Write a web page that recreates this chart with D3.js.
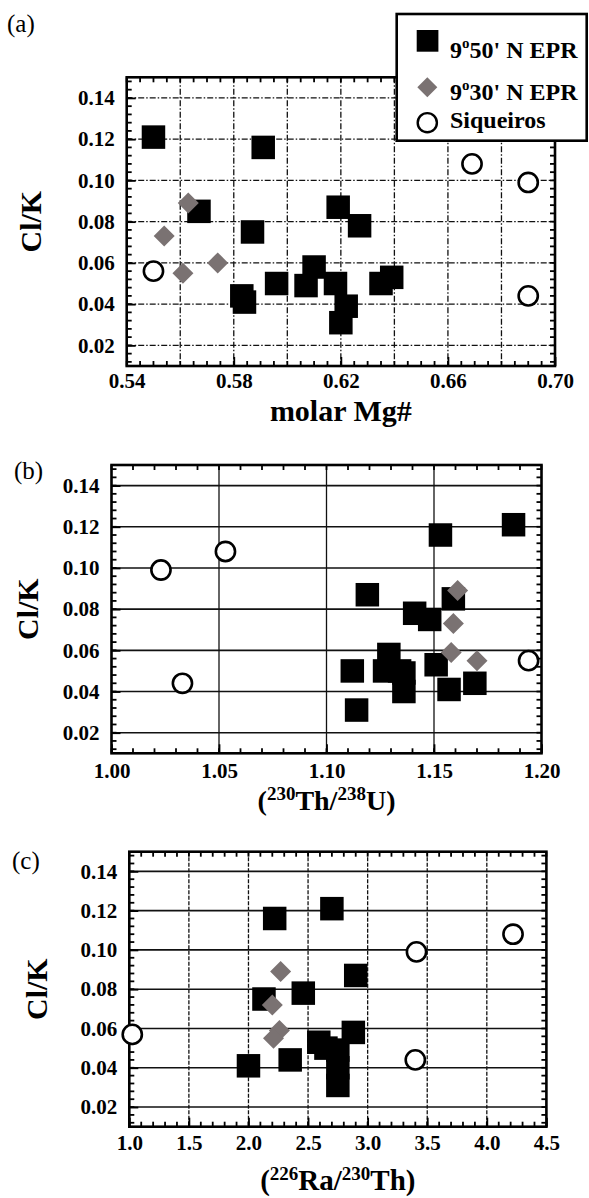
<!DOCTYPE html>
<html>
<head>
<meta charset="utf-8">
<script src="https://cdn.jsdelivr.net/npm/d3@7"></script>
<style>
  html, body { margin: 0; padding: 0; background: #fff; }
  svg { display: block; }
  svg text, svg tspan { font-family: "Liberation Serif", "Times New Roman", serif !important; }
</style>
</head>
<body>
<svg id="fig" width="589" height="1198"></svg>
<script>
// ---- shared y axis (Cl/K) ----
const clkDomain = [0.01, 0.15];
const clkTicks = [0.02, 0.04, 0.06, 0.08, 0.10, 0.12, 0.14];

// ---- panel (a): molar Mg# ----
const mgTickLabels = [0.54, 0.58, 0.62, 0.66, 0.70];
const mgGrid = [0.56, 0.58, 0.60, 0.62, 0.64, 0.66, 0.68];
const mg950 = [0.550, 0.591, 0.567, 0.587, 0.583, 0.584, 0.596, 0.619, 0.627, 0.610, 0.607, 0.618, 0.622, 0.620, 0.635, 0.639];
const clk950a = [0.121, 0.116, 0.085, 0.075, 0.044, 0.041, 0.050, 0.087, 0.078, 0.058, 0.049, 0.050, 0.039, 0.031, 0.050, 0.053];
const mg930 = [0.563, 0.554, 0.561, 0.574];
const clk930a = [0.089, 0.073, 0.055, 0.060];
const mgSiq = [0.550, 0.669, 0.690, 0.690];
const clkSiqA = [0.056, 0.108, 0.099, 0.044];

// ---- panel (b): (230Th/238U) ----
const thuTickLabels = [1.00, 1.05, 1.10, 1.15, 1.20];
const thuGrid = [1.05, 1.10, 1.15];
const thu950 = [1.187, 1.153, 1.119, 1.159, 1.141, 1.148, 1.129, 1.151, 1.112, 1.127, 1.134, 1.136, 1.169, 1.157, 1.136, 1.114];
const clk950b = [0.121, 0.116, 0.087, 0.085, 0.078, 0.075, 0.058, 0.053, 0.050, 0.050, 0.050, 0.049, 0.044, 0.041, 0.040, 0.031];
const thu930 = [1.161, 1.159, 1.158, 1.170];
const clk930b = [0.089, 0.073, 0.059, 0.055];
const thuSiq = [1.023, 1.053, 1.033, 1.194];
const clkSiqB = [0.099, 0.108, 0.044, 0.055];

// ---- panel (c): (226Ra/230Th) ----
const rathTickLabels = [1.0, 1.5, 2.0, 2.5, 3.0, 3.5, 4.0, 4.5];
const rathGrid = [1.5, 2.0, 2.5, 3.0, 3.5, 4.0];
const rath950 = [2.22, 2.70, 2.90, 2.13, 2.46, 2.00, 2.35, 2.88, 2.59, 2.65, 2.75, 2.75, 2.75];
const clk950c = [0.116, 0.121, 0.087, 0.075, 0.078, 0.041, 0.044, 0.058, 0.053, 0.050, 0.049, 0.040, 0.031];
const rath930 = [2.27, 2.20, 2.26, 2.21];
const clk930c = [0.089, 0.072, 0.059, 0.055];
const rathSiq = [1.025, 3.41, 3.40, 4.22];
const clkSiqC = [0.057, 0.099, 0.044, 0.108];

const legendLabels = [["9", "o", "50' N EPR"], ["9", "o", "30' N EPR"], ["Siqueiros"]];

const svg = d3.select("#fig");
const zip = (xs, ys) => xs.map((v, i) => [v, ys[i]]);
const SERIF = "Liberation Serif";

const panels = [
  {
    tag: "(a)", tagX: 7, tagY: 32,
    box: { x0: 126.7, x1: 555, y0: 77.3, y1: 366 },
    xDomain: [0.54, 0.70], labels: mgTickLabels, grid: mgGrid, minorStep: 0.005, fmt: ".2f",
    labelY: 388, yTitleX: 30,
    gridDashX: "6,2,1.5,2", gridDashY: "6,2,1.5,2",
    title: [["molar Mg#", false]], titleY: 421, titleSize: 30,
    sq: zip(mg950, clk950a), di: zip(mg930, clk930a), ci: zip(mgSiq, clkSiqA)
  },
  {
    tag: "(b)", tagX: 14, tagY: 479,
    box: { x0: 111.5, x1: 541.5, y0: 465, y1: 753.3 },
    xDomain: [1.00, 1.20], labels: thuTickLabels, grid: thuGrid, minorStep: 0.01, fmt: ".2f",
    labelY: 778, yTitleX: 27,
    gridDashX: null, gridDashY: null,
    title: [["(", false], ["230", true], ["Th/", false], ["238", true], ["U)", false]], titleY: 810, titleSize: 28,
    sq: zip(thu950, clk950b), di: zip(thu930, clk930b), ci: zip(thuSiq, clkSiqB)
  },
  {
    tag: "(c)", tagX: 12, tagY: 869,
    box: { x0: 129.3, x1: 546.4, y0: 851.7, y1: 1126.7 },
    xDomain: [1.0, 4.5], labels: rathTickLabels, grid: rathGrid, minorStep: 0.1, fmt: ".1f",
    labelY: 1150, yTitleX: 36,
    gridDashX: "4,1.5", gridDashY: null,
    title: [["(", false], ["226", true], ["Ra/", false], ["230", true], ["Th)", false]], titleY: 1190, titleSize: 29,
    sq: zip(rath950, clk950c), di: zip(rath930, clk930c), ci: zip(rathSiq, clkSiqC)
  }
];

const SQ = 23.5;      // square marker side
const DI = 10.5;      // diamond half-diagonal
const CR = 9.6;       // circle radius
const diamondPath = (cx, cy, h) => `M${cx},${cy - h}L${cx + h},${cy}L${cx},${cy + h}L${cx - h},${cy}Z`;

panels.forEach(p => {
  const b = p.box;
  const x = d3.scaleLinear().domain(p.xDomain).range([b.x0, b.x1]);
  const y = d3.scaleLinear().domain(clkDomain).range([b.y1, b.y0]);
  const g = svg.append("g");

  // grid lines
  g.append("g").selectAll("line").data(p.grid).join("line")
    .attr("x1", d => x(d)).attr("x2", d => x(d))
    .attr("y1", b.y0).attr("y2", b.y1)
    .attr("stroke", "#111").attr("stroke-width", 1.3)
    .attr("stroke-dasharray", p.gridDashX);
  g.append("g").selectAll("line").data(clkTicks).join("line")
    .attr("x1", b.x0).attr("x2", b.x1)
    .attr("y1", d => y(d)).attr("y2", d => y(d))
    .attr("stroke", "#111").attr("stroke-width", p.gridDashY ? 1.3 : 1.6)
    .attr("stroke-dasharray", p.gridDashY);

  // minor ticks (inward, all four sides)
  const xMinor = d3.range(p.xDomain[0], p.xDomain[1] + 1e-9, p.minorStep);
  const yMinor = d3.range(0.012, 0.15, 0.004);
  const tk = g.append("g").attr("stroke", "#000").attr("stroke-width", 1.8);
  xMinor.forEach(v => {
    tk.append("line").attr("x1", x(v)).attr("x2", x(v)).attr("y1", b.y1).attr("y2", b.y1 - 5);
    tk.append("line").attr("x1", x(v)).attr("x2", x(v)).attr("y1", b.y0).attr("y2", b.y0 + 5);
  });
  yMinor.forEach(v => {
    tk.append("line").attr("y1", y(v)).attr("y2", y(v)).attr("x1", b.x0).attr("x2", b.x0 + 5);
    tk.append("line").attr("y1", y(v)).attr("y2", y(v)).attr("x1", b.x1).attr("x2", b.x1 - 5);
  });

  // frame
  g.append("rect").attr("x", b.x0).attr("y", b.y0)
    .attr("width", b.x1 - b.x0).attr("height", b.y1 - b.y0)
    .attr("fill", "none").attr("stroke", "#000").attr("stroke-width", 2.6);

  // x tick labels through d3 axis
  const xa = g.append("g").attr("transform", `translate(0,${b.y1})`)
    .call(d3.axisBottom(x).tickValues(p.labels).tickFormat(d3.format(p.fmt)).tickSize(-9));
  xa.attr("font-family", SERIF);
  xa.select(".domain").remove();
  xa.selectAll(".tick line").attr("stroke", "#000").attr("stroke-width", 1.8);
  xa.selectAll(".tick text").attr("dy", null).attr("y", p.labelY - b.y1)
    .attr("font-weight", "bold").attr("font-size", 21).attr("fill", "#000");

  // y tick labels through d3 axis
  const ya = g.append("g").attr("transform", `translate(${b.x0},0)`)
    .call(d3.axisLeft(y).tickValues(clkTicks).tickFormat(d3.format(".2f")).tickSize(-9).tickPadding(12));
  ya.attr("font-family", SERIF);
  ya.select(".domain").remove();
  ya.selectAll(".tick line").attr("stroke", "#000").attr("stroke-width", 1.8);
  ya.selectAll(".tick text")
    .attr("font-weight", "bold").attr("font-size", 21).attr("fill", "#000");

  // y title
  g.append("text")
    .attr("transform", `translate(${p.yTitleX},${(b.y0 + b.y1) / 2}) rotate(-90)`)
    .attr("text-anchor", "middle").attr("dy", "0.35em")
    .attr("font-weight", "bold").attr("font-size", 30).text("Cl/K");

  // x title, with raised isotope mass numbers
  const tt = g.append("text").attr("x", (b.x0 + b.x1) / 2).attr("y", p.titleY)
    .attr("text-anchor", "middle").attr("font-weight", "bold").attr("font-size", p.titleSize);
  p.title.forEach(([s, sup], i) => {
    const span = tt.append("tspan").text(s);
    if (sup) span.attr("dy", -10).attr("font-size", 19);
    else if (i > 0 && p.title[i - 1][1]) span.attr("dy", 10);
  });

  // panel tag
  svg.append("text").attr("x", p.tagX).attr("y", p.tagY)
    .attr("font-size", 25).text(p.tag);

  // markers
  const m = svg.append("g");
  m.selectAll("rect.sq").data(p.sq).join("rect").attr("class", "sq")
    .attr("x", d => x(d[0]) - SQ / 2).attr("y", d => y(d[1]) - SQ / 2)
    .attr("width", SQ).attr("height", SQ).attr("fill", "#000");
  m.selectAll("path.di").data(p.di).join("path").attr("class", "di")
    .attr("d", d => diamondPath(x(d[0]), y(d[1]), DI)).attr("fill", "#7a7272");
  m.selectAll("circle.ci").data(p.ci).join("circle").attr("class", "ci")
    .attr("cx", d => x(d[0])).attr("cy", d => y(d[1])).attr("r", CR)
    .attr("fill", "#fff").attr("stroke", "#000").attr("stroke-width", 2.6);
});

// ---- legend (top right of panel a) ----
const lg = svg.append("g");
lg.append("rect").attr("x", 396.7).attr("y", 14).attr("width", 190).attr("height", 126.7)
  .attr("fill", "#fff").attr("stroke", "#000").attr("stroke-width", 2.6);
lg.append("rect").attr("x", 416.7).attr("y", 30).attr("width", 21.7).attr("height", 21.7).attr("fill", "#000");
lg.append("path").attr("d", diamondPath(427.3, 87.3, 10)).attr("fill", "#7a7272");
lg.append("circle").attr("cx", 427.3).attr("cy", 122.7).attr("r", 9.6)
  .attr("fill", "#fff").attr("stroke", "#000").attr("stroke-width", 2.4);
const legendY = [58.3, 100, 128.3];
legendLabels.forEach((parts, i) => {
  const t = lg.append("text").attr("x", 450).attr("y", legendY[i])
    .attr("font-weight", "bold").attr("font-size", 24);
  if (parts.length === 1) { t.text(parts[0]); return; }
  t.append("tspan").text(parts[0]);
  t.append("tspan").attr("dy", -10).attr("font-size", 15).text(parts[1]);
  t.append("tspan").attr("dy", 10).text(parts[2]);
});
</script>
</body>
</html>
